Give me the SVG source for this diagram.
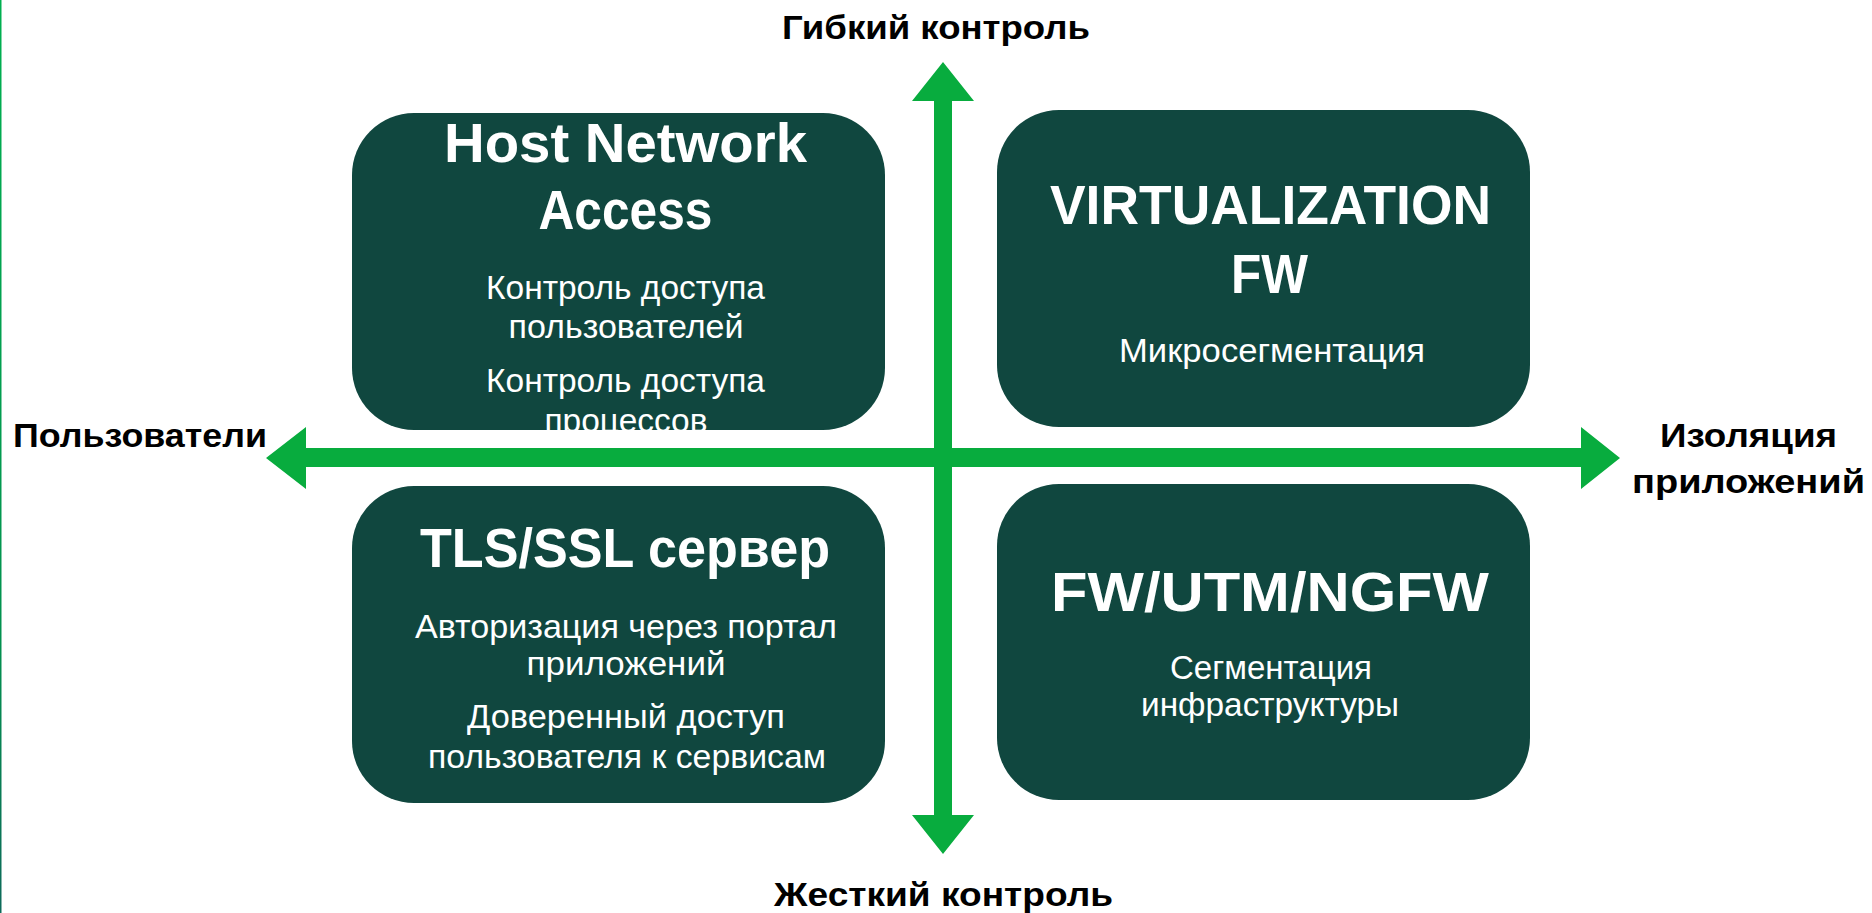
<svg xmlns="http://www.w3.org/2000/svg" width="1872" height="913" viewBox="0 0 1872 913">
  <defs>
    <style>
      .box { fill: #10473F; }
      .h { font-family: "Liberation Sans", Arial, sans-serif; font-weight: bold; font-size: 56px; fill: #FFFFFF; text-anchor: middle; }
      .b { font-family: "Liberation Sans", Arial, sans-serif; font-size: 34px; fill: #FFFFFF; text-anchor: middle; }
      .ax { font-family: "Liberation Sans", Arial, sans-serif; font-weight: bold; font-size: 34px; fill: #000000; text-anchor: middle; }
      .arrow { fill: #08AC3E; }
    </style>
    <linearGradient id="edge" x1="0" y1="0" x2="0" y2="1">
      <stop offset="0" stop-color="#00B050"/>
      <stop offset="0.7" stop-color="#03914F"/>
      <stop offset="1" stop-color="#0E6A5A"/>
    </linearGradient>
    <clipPath id="clipTL">
      <rect x="352" y="113" width="533" height="317" rx="62" ry="62"/>
    </clipPath>
  </defs>

  <rect x="0" y="0" width="1872" height="913" fill="#FFFFFF"/>
  <rect x="0" y="0" width="1.5" height="913" fill="url(#edge)"/>

  <g id="node-host-network-access">
    <rect class="box" x="352" y="113" width="533" height="317" rx="62" ry="62"/>
    <g clip-path="url(#clipTL)">
      <text class="h" x="625.5" y="162" textLength="363" lengthAdjust="spacingAndGlyphs">Host Network</text>
      <text class="h" x="625.5" y="229" textLength="174" lengthAdjust="spacingAndGlyphs">Access</text>
      <text class="b" x="625.5" y="299" textLength="279" lengthAdjust="spacingAndGlyphs">Контроль доступа</text>
      <text class="b" x="626" y="338" textLength="235" lengthAdjust="spacingAndGlyphs">пользователей</text>
      <text class="b" x="625.5" y="392" textLength="279" lengthAdjust="spacingAndGlyphs">Контроль доступа</text>
      <text class="b" x="626" y="432" textLength="163" lengthAdjust="spacingAndGlyphs">процессов</text>
    </g>
  </g>

  <g id="node-virtualization-fw">
    <rect class="box" x="997" y="110" width="533" height="317" rx="62" ry="62"/>
    <text class="h" x="1270.5" y="224" textLength="441" lengthAdjust="spacingAndGlyphs">VIRTUALIZATION</text>
    <text class="h" x="1269.5" y="293" textLength="77" lengthAdjust="spacingAndGlyphs">FW</text>
    <text class="b" x="1272" y="362" textLength="306" lengthAdjust="spacingAndGlyphs">Микросегментация</text>
  </g>

  <g id="node-tls-ssl-server">
    <rect class="box" x="352" y="486" width="533" height="317" rx="62" ry="62"/>
    <text class="h" x="625" y="567" textLength="410" lengthAdjust="spacingAndGlyphs">TLS/SSL сервер</text>
    <text class="b" x="626" y="638" textLength="422" lengthAdjust="spacingAndGlyphs">Авторизация через портал</text>
    <text class="b" x="626" y="675" textLength="199" lengthAdjust="spacingAndGlyphs">приложений</text>
    <text class="b" x="626" y="728" textLength="318" lengthAdjust="spacingAndGlyphs">Доверенный доступ</text>
    <text class="b" x="627" y="768" textLength="398" lengthAdjust="spacingAndGlyphs">пользователя к сервисам</text>
  </g>

  <g id="node-fw-utm-ngfw">
    <rect class="box" x="997" y="484" width="533" height="316" rx="62" ry="62"/>
    <text class="h" x="1270" y="611" textLength="438" lengthAdjust="spacingAndGlyphs">FW/UTM/NGFW</text>
    <text class="b" x="1271" y="679" textLength="202" lengthAdjust="spacingAndGlyphs">Сегментация</text>
    <text class="b" x="1270" y="716" textLength="258" lengthAdjust="spacingAndGlyphs">инфраструктуры</text>
  </g>

  <g id="connectors">
    <polygon class="arrow" points="266,458 306,427 306,448 1581,448 1581,427 1620,458 1581,489 1581,467 306,467 306,489"/>
    <polygon class="arrow" points="943,62 974,101 952,101 952,815 974,815 943,854 912,815 934,815 934,101 912,101"/>
  </g>

  <g id="axis-labels">
    <text class="ax" x="936" y="39" textLength="308" lengthAdjust="spacingAndGlyphs">Гибкий контроль</text>
    <text class="ax" x="943.5" y="906" textLength="339" lengthAdjust="spacingAndGlyphs">Жесткий контроль</text>
    <text class="ax" x="140" y="447" textLength="254" lengthAdjust="spacingAndGlyphs">Пользователи</text>
    <text class="ax" x="1748.5" y="447" textLength="177" lengthAdjust="spacingAndGlyphs">Изоляция</text>
    <text class="ax" x="1748.5" y="493" textLength="233" lengthAdjust="spacingAndGlyphs">приложений</text>
  </g>
</svg>
